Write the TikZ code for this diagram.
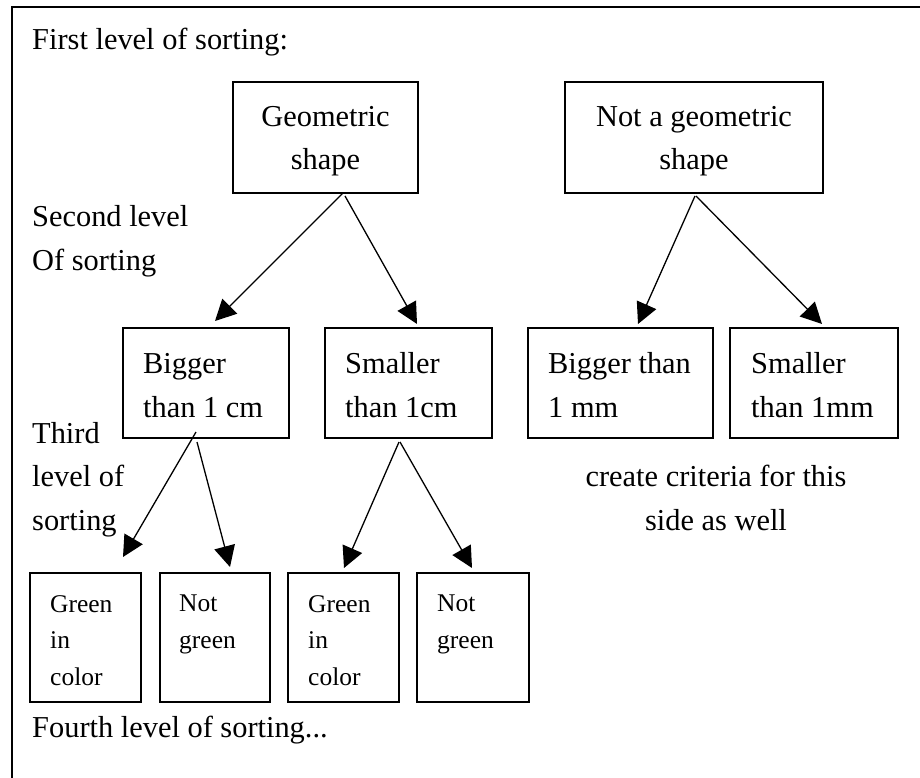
\documentclass[tikz,border=0pt]{standalone}
\usepackage{fontspec}
\setmainfont{Liberation Serif}
\usetikzlibrary{arrows.meta}
\begin{document}
\begin{tikzpicture}[x=1pt,y=-1pt,
  box/.style={draw,line width=1.5pt,inner sep=0pt},
  bigtxt/.style={inner sep=0pt,font=\fontsize{30.4}{43.5}\selectfont},
  smalltxt/.style={inner sep=0pt,font=\fontsize{25.5}{36.5}\selectfont},
  arr/.style={line width=1.3pt,-{Triangle[length=21pt,width=21pt]}}]
\useasboundingbox (0,0) rectangle (920,778);
% frame
\draw[line width=2pt] (12,778) -- (12,7) -- (920,7);
% boxes
\node[box,minimum width=185,minimum height=111] (geo) at (325.5,137.5) {};
\node[box,minimum width=258,minimum height=111] (notgeo) at (694,137.5) {};
\node[box,minimum width=166,minimum height=110] (big) at (206,383) {};
\node[box,minimum width=167,minimum height=110] (small) at (408.5,383) {};
\node[box,minimum width=185,minimum height=110] (bigmm) at (620.5,383) {};
\node[box,minimum width=168,minimum height=110] (smallmm) at (814,383) {};
\node[box,minimum width=111,minimum height=129] (ga) at (85.5,637.5) {};
\node[box,minimum width=110,minimum height=129] (na) at (215,637.5) {};
\node[box,minimum width=111,minimum height=129] (gb) at (343.5,637.5) {};
\node[box,minimum width=112,minimum height=129] (nb) at (473,637.5) {};
% box texts (base anchor = baseline of last line)
\node[bigtxt,anchor=base,align=center] (tgeo) at (325.5,170) {Geometric\\shape};
\node[bigtxt,anchor=base,align=center] (tnotgeo) at (694,170) {Not a geometric\\shape};
\node[bigtxt,anchor=base west,align=left] (tbig) at (143,417) {Bigger\\than 1 cm};
\node[bigtxt,anchor=base west,align=left] (tsmall) at (345,417) {Smaller\\than 1cm};
\node[bigtxt,anchor=base west,align=left] (tbigmm) at (548,417) {Bigger than\\1 mm};
\node[bigtxt,anchor=base west,align=left] (tsmallmm) at (751,417) {Smaller\\than 1mm};
\node[smalltxt,anchor=base west,align=left] (tga) at (50,685) {Green\\in\\color};
\node[smalltxt,anchor=base west,align=left] (tna) at (179,648) {Not\\green};
\node[smalltxt,anchor=base west,align=left] (tgb) at (308,685) {Green\\in\\color};
\node[smalltxt,anchor=base west,align=left] (tnb) at (437,648) {Not\\green};
% level labels
\node[bigtxt,anchor=base west] (l1) at (32,50) {First level of sorting:};
\node[bigtxt,anchor=base west,align=left] (l2) at (32,270) {Second level\\Of sorting};
\node[bigtxt,anchor=base west,align=left] (l3) at (32,530) {Third\\level of\\sorting};
\node[bigtxt,anchor=base west] (l4) at (32,737) {Fourth level of sorting...};
\node[bigtxt,anchor=base,align=center] (note) at (716,530) {create criteria for this\\side as well};
% arrow end points
\coordinate (geoA) at (343,193);
\coordinate (geoB) at (345,196);
\coordinate (bigT) at (215,321);
\coordinate (smallT) at (417,324);
\coordinate (ngA) at (695,196);
\coordinate (ngB) at (696,196);
\coordinate (bigmmT) at (638,324);
\coordinate (smallmmT) at (822,324);
\coordinate (bigA) at (196,432);
\coordinate (bigB) at (197,442);
\coordinate (gaT) at (123,557);
\coordinate (naT) at (230,567);
\coordinate (smA) at (399,442);
\coordinate (smB) at (400,442);
\coordinate (gbT) at (344,568);
\coordinate (nbT) at (472,568);
% arrows
\draw[arr] (geoA) -- (bigT);
\draw[arr] (geoB) -- (smallT);
\draw[arr] (ngA) -- (bigmmT);
\draw[arr] (ngB) -- (smallmmT);
\draw[arr] (bigA) -- (gaT);
\draw[arr] (bigB) -- (naT);
\draw[arr] (smA) -- (gbT);
\draw[arr] (smB) -- (nbT);
\end{tikzpicture}
\end{document}
